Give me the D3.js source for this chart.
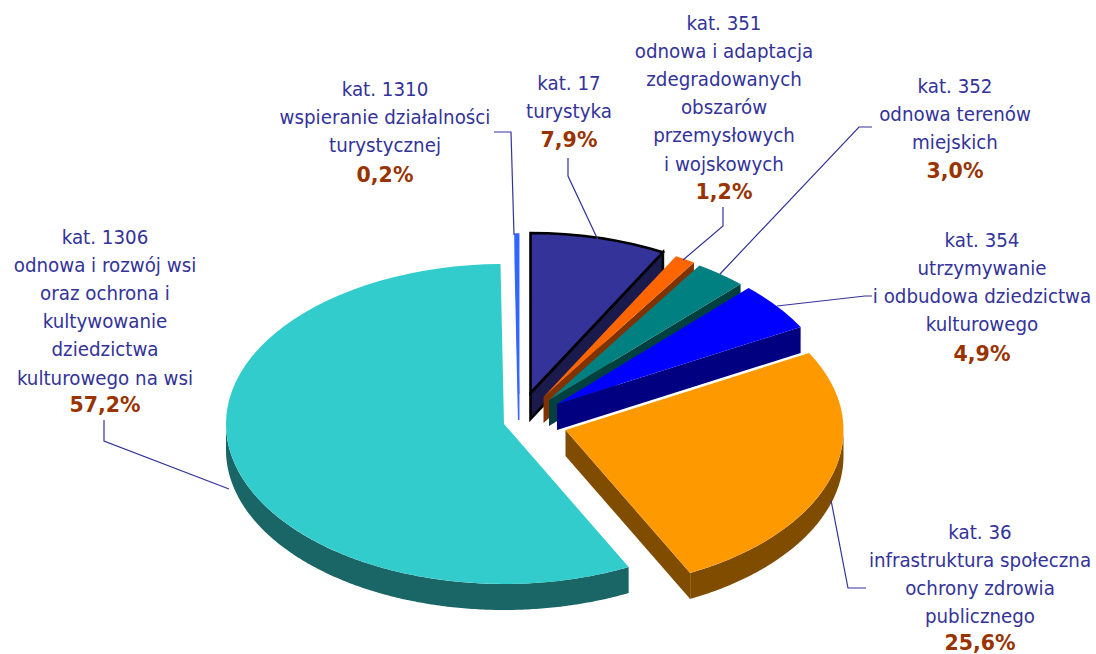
<!DOCTYPE html>
<html>
<head>
<meta charset="utf-8">
<style>
html,body{margin:0;padding:0;background:#fff}
svg{display:block}
text{font-family:"DejaVu Sans Condensed","DejaVu Sans",sans-serif;text-anchor:middle}
.pct{font-family:"DejaVu Sans",sans-serif;font-weight:bold}
</style>
<script src="https://cdn.jsdelivr.net/npm/d3@7/dist/d3.min.js"></script>
</head>
<body>
<svg id="c" width="1096" height="654"></svg>
<script>
const categories = ["kat. 1306","kat. 1310","kat. 17","kat. 351","kat. 352","kat. 354","kat. 36"];
const values = [57.2,0.2,7.9,1.2,3.0,4.9,25.6];
const pctLabels = ["57,2%","0,2%","7,9%","1,2%","3,0%","4,9%","25,6%"];
const descriptions = [
  ["odnowa i rozwój wsi","oraz ochrona i","kultywowanie","dziedzictwa","kulturowego na wsi"],
  ["wspieranie działalności","turystycznej"],
  ["turystyka"],
  ["odnowa i adaptacja","zdegradowanych","obszarów","przemysłowych","i wojskowych"],
  ["odnowa terenów","miejskich"],
  ["utrzymywanie","i odbudowa dziedzictwa","kulturowego"],
  ["infrastruktura społeczna","ochrony zdrowia","publicznego"]
];
const topColors = ["#33CCCC","#3366FF","#333399","#FF6600","#008080","#0000FF","#FF9900"];
const wallColors = ["#1A6666","#3366FF","#1A1A4D","#803300","#004040","#000080","#804D00"];
// layout
const apexes = [[504,424],[518.7,394],[530.5,393],[543.5,397],[549,400],[557,404],[565.5,430]];
const labelPos = [[105,243.5],[385,95.5],[569,89.5],[724,29.5],[955,92.5],[982,246.5],[980,538.5]];
const pctNudge = [-1,1.5,1,0.5,0.5,2,-1];
const leaders = [
  [[104,420],[104,441],[229,489]],
  [[494,132],[511,132],[514,235]],
  [[568,158],[568,176],[598,240]],
  [[723,207],[723,226],[683,260]],
  [[872,127],[859,127],[720,274]],
  [[872,296],[865,296],[777,306]],
  [[866,588],[848,588],[831,500]]
];
const rx = 278, ry = 160, depth = 26;
const lineH = 28.2;

const rad = Math.PI/180, start = 153.36*rad;
const arcs = d3.pie().sort(null).startAngle(start).endAngle(start+2*Math.PI)(values);
const svg = d3.select("#c");
const line = d3.line();
const px = (c,a,dy=0)=>[c[0]+rx*Math.sin(a), c[1]-ry*Math.cos(a)+dy];
const arcGen = d3.arc().innerRadius(0).outerRadius(rx);

// Paint order: side slices first, large slice last
[1,2,3,4,5,6,0].forEach(i=>{
  const d = arcs[i], c = apexes[i], g = svg.append("g");
  const turn = d.startAngle >= 2*Math.PI ? 2*Math.PI : 0;
  const a0 = d.startAngle - turn, a1 = d.endAngle - turn;
  const stroke = i===2 ? "#000" : (i===1 ? topColors[1] : "none");
  const sw = i===2 ? 2.6 : (i===1 ? 1.5 : 0);
  const wall = pts => g.append("path").attr("d",line(pts)+"Z").attr("fill",wallColors[i])
      .attr("stroke",stroke).attr("stroke-width",sw).attr("stroke-linejoin","miter");
  // visible radial faces
  if (Math.sin(a1)>1e-6) wall([c,px(c,a1),px(c,a1,depth),[c[0],c[1]+depth]]);
  if (Math.sin(a0)<-1e-6) wall([c,px(c,a0),px(c,a0,depth),[c[0],c[1]+depth]]);
  // visible outer rim between 90° and 270°
  const lo = Math.max(a0,Math.PI/2), hi = Math.min(a1,1.5*Math.PI);
  if (hi>lo){
    const as = d3.range(lo,hi,0.01).concat([hi]);
    wall(as.map(a=>px(c,a)).concat(as.slice().reverse().map(a=>px(c,a,depth))));
  }
  g.append("path").attr("d",arcGen(d))
    .attr("transform",`translate(${c[0]},${c[1]}) scale(1,${ry/rx})`)
    .attr("fill",topColors[i]).attr("stroke",stroke).attr("stroke-width",sw)
    .attr("vector-effect","non-scaling-stroke");
});

// leaders
svg.append("g").selectAll("path").data(leaders).join("path")
  .attr("d",line).attr("fill","none").attr("stroke","#333399").attr("stroke-width",1.2);

// labels
categories.forEach((cat,i)=>{
  const [x,y] = labelPos[i];
  const lines = [cat].concat(descriptions[i]);
  const t = svg.append("text").attr("x",x).attr("y",y);
  lines.forEach((s,k)=>t.append("tspan").attr("x",x).attr("y",y+k*lineH)
      .attr("font-size",20.3).attr("fill","#333399").text(s));
  t.append("tspan").attr("class","pct").attr("x",x).attr("y",y+lines.length*lineH+pctNudge[i])
      .attr("font-size",20.5).attr("fill","#993300").text(pctLabels[i]);
});
</script>
</body>
</html>
